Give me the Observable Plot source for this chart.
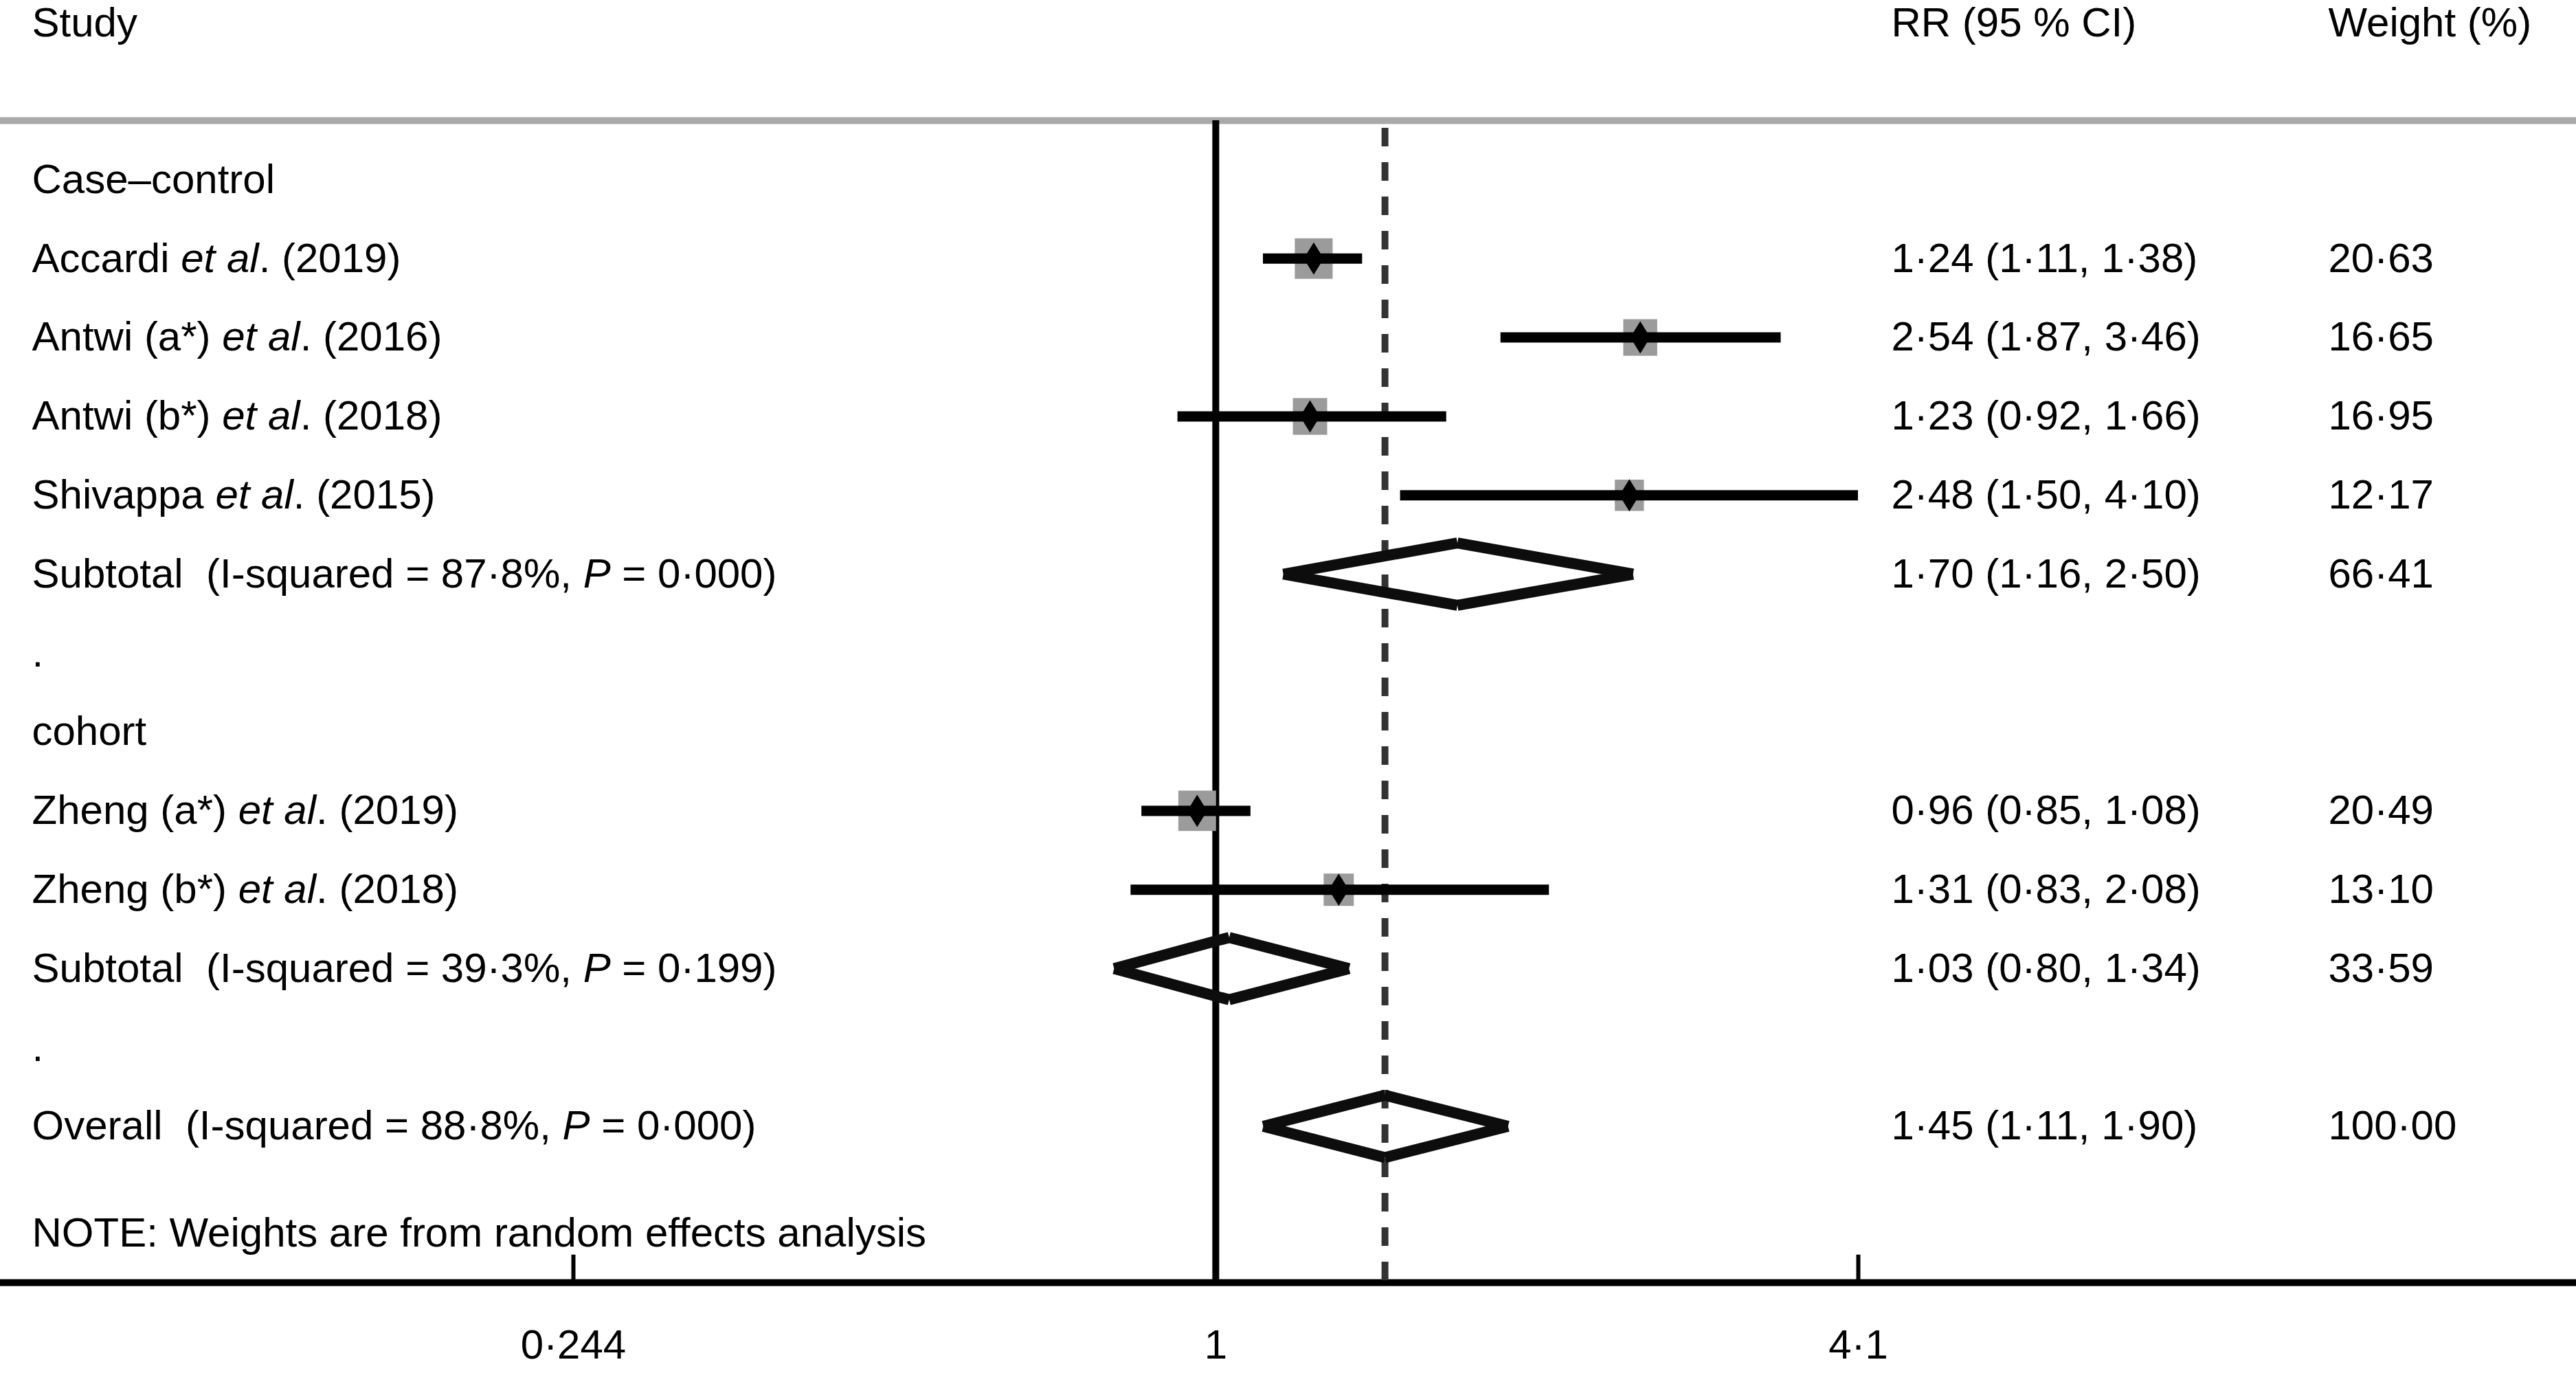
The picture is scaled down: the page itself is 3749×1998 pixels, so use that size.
<!DOCTYPE html>
<html>
<head>
<meta charset="utf-8">
<script src="https://cdn.jsdelivr.net/npm/d3@7"></script>
<script src="https://cdn.jsdelivr.net/npm/@observablehq/plot@0.6"></script>
<style>
  html, body { margin: 0; padding: 0; background: #fff; }
  svg text { white-space: pre; }
</style>
</head>
<body>
<div id="chart"></div>
<script>
// ---------------- data ----------------
const groups = ["Case–control", "cohort"];
const studyNames = [
  "Accardi et al. (2019)",
  "Antwi (a*) et al. (2016)",
  "Antwi (b*) et al. (2018)",
  "Shivappa et al. (2015)",
  "Zheng (a*) et al. (2019)",
  "Zheng (b*) et al. (2018)"
];
const studyGroup = [0, 0, 0, 0, 1, 1];
const studyRR = [1.24, 2.54, 1.23, 2.48, 0.96, 1.31];
const studyLo = [1.11, 1.87, 0.92, 1.50, 0.85, 0.83];
const studyHi = [1.38, 3.46, 1.66, 4.10, 1.08, 2.08];
const studyWeight = [20.63, 16.65, 16.95, 12.17, 20.49, 13.10];

const pooledLabels = [
  "Subtotal  (I-squared = 87·8%, P = 0·000)",
  "Subtotal  (I-squared = 39·3%, P = 0·199)",
  "Overall  (I-squared = 88·8%, P = 0·000)"
];
const pooledRR = [1.70, 1.03, 1.45];
const pooledLo = [1.16, 0.80, 1.11];
const pooledHi = [2.50, 1.34, 1.90];
const pooledWeight = [66.41, 33.59, 100.00];

const headers = ["Study", "RR (95 % CI)", "Weight (%)"];
const noteText = "NOTE: Weights are from random effects analysis";
const tickValues = [0.244, 1, 4.1];

// ---------------- build rows ----------------
const fmt2 = v => d3.format(".2f")(v).replace(".", "·");
const rows = [];
const studyRows = [];
const pooledRows = [];
let r = 0;
groups.forEach((g, gi) => {
  rows.push({label: g, row: r++});
  studyNames.forEach((name, i) => {
    if (studyGroup[i] !== gi) return;
    const d = {label: name, row: r++, rr: studyRR[i], lo: studyLo[i], hi: studyHi[i], w: studyWeight[i]};
    rows.push(d); studyRows.push(d);
  });
  const p = {label: pooledLabels[gi], row: r++, rr: pooledRR[gi], lo: pooledLo[gi], hi: pooledHi[gi], w: pooledWeight[gi]};
  rows.push(p); pooledRows.push(p);
  rows.push({label: ".", row: r++});
});
const kOverall = pooledLabels.length - 1;
const overall = {label: pooledLabels[kOverall], row: r++, rr: pooledRR[kOverall], lo: pooledLo[kOverall], hi: pooledHi[kOverall], w: pooledWeight[kOverall]};
rows.push(overall); pooledRows.push(overall);
const valueRows = rows.filter(d => d.rr !== undefined);

// diamond segments for pooled estimates
const H = 0.395;
const diamondSegs = pooledRows.flatMap(d => [
  {xa: d.lo, ya: d.row, xb: d.rr, yb: d.row - H},
  {xa: d.rr, ya: d.row - H, xb: d.hi, yb: d.row},
  {xa: d.hi, ya: d.row, xb: d.rr, yb: d.row + H},
  {xa: d.rr, ya: d.row + H, xb: d.lo, yb: d.row}
]);

const tallDiamond = {
  draw(context, size) {
    const hy = Math.sqrt(size / 1.234), hx = 0.617 * hy;
    context.moveTo(0, -hy); context.lineTo(hx, 0); context.lineTo(0, hy); context.lineTo(-hx, 0); context.closePath();
  }
};
const box = {
  draw(context, size) {
    const s = Math.sqrt(size), hx = 0.483 * s, hy = 0.518 * s;
    context.rect(-hx, -hy, 2 * hx, 2 * hy);
  }
};

const FS = 60;
const yHeader = -1.98, yTopRule = -0.749, yDashStart = -0.653, yAxis = 13.98, yTickTop = 13.63, yNote = 13.36, yTickLabel = 14.78;
const xStudy = 46, xRR = 2752, xW = 3388;

const chart = Plot.plot({
  width: 3749,
  height: 1998,
  margin: 0,
  style: {fontFamily: "'Liberation Sans', Arial, Helvetica, sans-serif", fontSize: FS + "px", background: "#fff", color: "#000"},
  x: {type: "log", domain: [0.244, 4.1], range: [834, 2704], axis: null},
  y: {domain: [0, 12], range: [261, 261 + 114.8 * 12], axis: null},
  r: {type: "sqrt", domain: [0, 25], range: [0, 12.55 * 5 / Math.sqrt(Math.PI)]},
  marks: [
    Plot.ruleY([yTopRule], {stroke: "#a9a9a9", strokeWidth: 10}),
    Plot.ruleY([yAxis], {stroke: "#000", strokeWidth: 10}),
    Plot.ruleX(tickValues, {y1: yTickTop, y2: yAxis, stroke: "#000", strokeWidth: 6}),
    Plot.text(tickValues, {x: d => d, y: yTickLabel, text: d => String(d).replace(".", "·"), fontSize: FS, textAnchor: "middle", fill: "#000"}),
    Plot.ruleX([1], {y1: yTopRule, y2: yAxis, stroke: "#000", strokeWidth: 10}),
    Plot.ruleX([overall.rr], {y1: yDashStart, y2: yAxis, stroke: "#333", strokeWidth: 10, strokeDasharray: "27,23"}),
    Plot.dot(studyRows, {x: "rr", y: "row", r: "w", symbol: box, fill: "#9b9b9b", stroke: "none"}),
    Plot.ruleY(studyRows, {y: "row", x1: "lo", x2: "hi", stroke: "#000", strokeWidth: 15}),
    Plot.dot(studyRows, {x: "rr", y: "row", r: 14.73, symbol: tallDiamond, fill: "#000", stroke: "none"}),
    Plot.link(diamondSegs, {x1: "xa", y1: "ya", x2: "xb", y2: "yb", stroke: "#0d0d0d", strokeWidth: 16, strokeLinecap: "butt"}),
    Plot.text([headers[0]], {frameAnchor: "left", dx: xStudy, y: yHeader, text: d => d, textAnchor: "start", fontSize: FS, fill: "#000"}),
    Plot.text([headers[1]], {frameAnchor: "left", dx: xRR, y: yHeader, text: d => d, textAnchor: "start", fontSize: FS, fill: "#000"}),
    Plot.text([headers[2]], {frameAnchor: "left", dx: xW, y: yHeader, text: d => d, textAnchor: "start", fontSize: FS, fill: "#000"}),
    Plot.text(rows, {frameAnchor: "left", dx: xStudy, y: "row", text: "label", textAnchor: "start", fontSize: FS, fill: "#000"}),
    Plot.text(valueRows, {frameAnchor: "left", dx: xRR, y: "row", text: d => `${fmt2(d.rr)} (${fmt2(d.lo)}, ${fmt2(d.hi)})`, textAnchor: "start", fontSize: FS, fill: "#000"}),
    Plot.text(valueRows, {frameAnchor: "left", dx: xW, y: "row", text: d => fmt2(d.w), textAnchor: "start", fontSize: FS, fill: "#000"}),
    Plot.text([noteText], {frameAnchor: "left", dx: xStudy, y: yNote, text: d => d, textAnchor: "start", fontSize: FS, fill: "#000"})
  ]
});

// italicise "et al" and the P in P-values
d3.select(chart).selectAll("text").each(function() {
  const el = this;
  if (el.querySelector("tspan")) return;
  const s = el.textContent;
  if (!/et al|P =/.test(s)) return;
  const parts = s.split(/(et al|P(?= =))/);
  el.textContent = "";
  parts.forEach(part => {
    if (!part) return;
    const t = document.createElementNS("http://www.w3.org/2000/svg", "tspan");
    t.textContent = part;
    if (part === "et al" || part === "P") t.setAttribute("font-style", "italic");
    el.appendChild(t);
  });
});

document.getElementById("chart").appendChild(chart);
</script>
</body>
</html>
